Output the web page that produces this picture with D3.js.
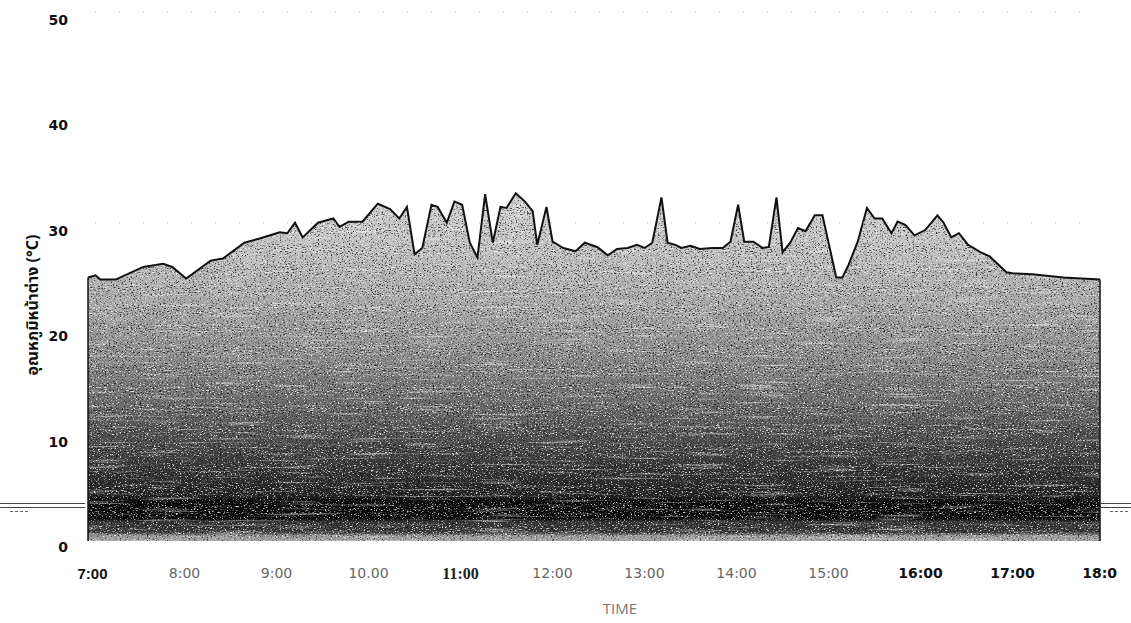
<!DOCTYPE html>
<html>
<head>
<meta charset="utf-8">
<script src="https://cdn.jsdelivr.net/npm/d3@7"></script>
<style>
  body { margin: 0; background: #fff; }
  svg { display: block; }
</style>
</head>
<body>
<svg id="chart" width="1131" height="623"></svg>
<script>
// Surface temperature readings through the day (time of day, °C)
const times = ["7:00","7:05","7:08","7:18","7:36","7:49","7:55","8:04","8:20","8:28","8:42","8:52",
  "9:05","9:10","9:15","9:20","9:30","9:40","9:44","9:50","9:59","10:09","10:17","10:23","10:28",
  "10:33","10:38","10:44","10:48","10:54","10:59","11:04","11:09","11:14","11:19","11:24","11:29",
  "11:33","11:39","11:45","11:50","11:53","11:59","12:03","12:10","12:18","12:24","12:32","12:39",
  "12:45","12:52","12:58","13:03","13:08","13:14","13:18","13:23","13:27","13:33","13:39","13:47",
  "13:54","13:59","14:04","14:08","14:14","14:20","14:24","14:29","14:33","14:38","14:43","14:48",
  "14:54","14:59","15:08","15:12","15:16","15:22","15:28","15:33","15:38","15:44","15:48","15:53",
  "15:59","16:06","16:14","16:18","16:23","16:28","16:34","16:42","16:48","16:59","17:03","17:16",
  "17:36","18:00"];
const temps = [25.0,25.2,24.8,24.8,26.0,26.3,26.0,24.9,26.6,26.8,28.3,28.7,
  29.3,29.2,30.2,28.8,30.2,30.6,29.8,30.3,30.3,32.0,31.5,30.6,31.7,
  27.2,27.8,31.9,31.7,30.2,32.2,31.9,28.3,26.9,32.9,28.3,31.7,
  31.6,33.0,32.2,31.3,28.1,31.7,28.4,27.8,27.5,28.3,27.9,27.1,
  27.7,27.8,28.1,27.8,28.3,32.6,28.3,28.1,27.8,28.0,27.7,27.8,
  27.8,28.4,31.9,28.4,28.4,27.8,27.9,32.6,27.4,28.3,29.7,29.4,
  30.9,30.9,25.0,25.0,26.2,28.4,31.6,30.6,30.6,29.2,30.3,30.0,
  29.0,29.5,30.9,30.2,28.8,29.2,28.1,27.4,27.0,25.5,25.4,25.3,
  25.0,24.8];
const yTicks = [0, 10, 20, 30, 40, 50];
const xTickHours = [7, 8, 9, 10, 11, 12, 13, 14, 15, 16, 17, 18];
const xTickLabels = ["7:00","8:00","9:00","10.00","11:00","12:00","13:00","14:00","15:00","16:00","17:00","18:00"];
const xTitle = "TIME";
const yTitle = "อุณหภูมิหน้าต่าง (°C)";

const toHours = s => { const [h, m] = s.split(":").map(Number); return h + m / 60; };
const data = times.map((t, i) => ({ h: toHours(t), v: temps[i] }));

const svg = d3.select("#chart");
const x = d3.scaleLinear().domain([7, 18]).range([88, 1100]);
const y = d3.scaleLinear().domain([0, 50]).range([541, 14]);

const defs = svg.append("defs");

// Vertical shading of the filled area: pale near the curve, near-black band close to the floor
const grad = defs.append("linearGradient")
  .attr("id", "shade").attr("gradientUnits", "userSpaceOnUse")
  .attr("x1", 0).attr("x2", 0).attr("y1", y(33)).attr("y2", y(0));
[[0.00, "#d2d2d2"], [0.14, "#c2c2c2"], [0.30, "#aaaaaa"], [0.45, "#8e8e8e"],
 [0.59, "#6e6e6e"], [0.71, "#4c4c4c"], [0.80, "#343434"], [0.87, "#222222"],
 [0.885, "#0a0a0a"], [0.935, "#080808"], [0.945, "#363636"], [0.975, "#3a3a3a"],
 [0.985, "#9a9a9a"], [1.00, "#a4a4a4"]]
  .forEach(([o, c]) => grad.append("stop").attr("offset", o).attr("stop-color", c));

// Grain filters: light and dark speckles, plus horizontal streaks
function grainFilter(id, freq, seed, gain, bias, light) {
  const f = defs.append("filter").attr("id", id)
    .attr("x", 0).attr("y", 0).attr("width", 1).attr("height", 1);
  f.append("feTurbulence").attr("type", "fractalNoise")
    .attr("baseFrequency", freq).attr("numOctaves", 2).attr("seed", seed);
  const c = light ? 1 : 0;
  const a = light ? `${gain} 0 0 0 ${-bias}` : `${-gain} 0 0 0 ${bias}`;
  f.append("feColorMatrix").attr("type", "matrix")
    .attr("values", `0 0 0 0 ${c} 0 0 0 0 ${c} 0 0 0 0 ${c} ${a}`);
  f.append("feComposite").attr("in2", "SourceGraphic").attr("operator", "in");
}
grainFilter("grainLight", "0.55 0.95", 7, 5, 2.8, true);
grainFilter("grainDark", "0.55 0.95", 19, 5, 2.2, false);
grainFilter("streaks", "0.015 0.45", 3, 4, 2.3, true);

const area = d3.area().x(d => x(d.h)).y0(y(0)).y1(d => y(d.v)).curve(d3.curveLinear);
const line = d3.line().x(d => x(d.h)).y(d => y(d.v)).curve(d3.curveLinear);

const plot = svg.append("g");
plot.append("path").datum(data).attr("d", area).attr("fill", "url(#shade)");
plot.append("path").datum(data).attr("d", area).attr("fill", "#fff").attr("filter", "url(#streaks)").attr("opacity", 0.45);
plot.append("path").datum(data).attr("d", area).attr("fill", "#fff").attr("filter", "url(#grainLight)").attr("opacity", 0.8);
plot.append("path").datum(data).attr("d", area).attr("fill", "#000").attr("filter", "url(#grainDark)").attr("opacity", 0.7);

// Edges of the filled area
const first = data[0], last = data[data.length - 1];
plot.append("line").attr("x1", x(first.h)).attr("x2", x(first.h))
  .attr("y1", y(first.v)).attr("y2", y(0)).attr("stroke", "#111").attr("stroke-width", 1.5);
plot.append("line").attr("x1", x(last.h)).attr("x2", x(last.h))
  .attr("y1", y(last.v)).attr("y2", y(0)).attr("stroke", "#111").attr("stroke-width", 1.5);
plot.append("path").datum(data).attr("d", line)
  .attr("fill", "none").attr("stroke", "#111").attr("stroke-width", 2).attr("stroke-linejoin", "miter");

// Faint dotted guides at 30 and 50
[30, 50].forEach(v => {
  svg.append("line").attr("x1", 95).attr("x2", 1095).attr("y1", y(v) - 2).attr("y2", y(v) - 2)
    .attr("stroke", "#bbb").attr("stroke-width", 1).attr("stroke-dasharray", "1 23");
});

// Short double rules at both sides of the floor band
[[0, 85], [1100, 1131]].forEach(([a, b]) => {
  svg.append("line").attr("x1", a).attr("x2", b).attr("y1", 503.5).attr("y2", 503.5).attr("stroke", "#444");
  svg.append("line").attr("x1", a).attr("x2", b).attr("y1", 507.5).attr("y2", 507.5).attr("stroke", "#444");
  svg.append("line").attr("x1", a + 10).attr("x2", a + 28).attr("y1", 511.5).attr("y2", 511.5)
    .attr("stroke", "#666").attr("stroke-dasharray", "3 2");
});

// Y axis
const yAxis = svg.append("g").attr("transform", "translate(68,6)")
  .call(d3.axisLeft(y).tickValues(yTicks).tickSize(0).tickPadding(0).tickFormat(d3.format("d")));
yAxis.select(".domain").remove();
yAxis.selectAll("text")
  .attr("font-family", "'DejaVu Sans', sans-serif").attr("font-weight", "bold")
  .attr("font-size", 14).attr("fill", "#111");

// X axis, clipped at the right edge of the sheet
defs.append("clipPath").attr("id", "xclip").append("rect")
  .attr("x", 0).attr("y", 550).attr("width", 1117).attr("height", 60);
const xAxis = svg.append("g").attr("clip-path", "url(#xclip)")
  .append("g").attr("transform", "translate(4,568)")
  .call(d3.axisBottom(x).tickValues(xTickHours).tickSize(0).tickPadding(0)
    .tickFormat((d, i) => xTickLabels[i]));
xAxis.select(".domain").remove();
const labelStyle = i => {
  if (i === 0) return ["'Liberation Sans', sans-serif", "bold", "#111", 15];
  if (i === 4) return ["'Liberation Serif', serif", "bold", "#222", 16];
  if (i >= 9) return ["'DejaVu Sans', sans-serif", "bold", "#111", 14];
  return ["'DejaVu Sans', sans-serif", "normal", "#666", 14];
};
xAxis.selectAll("text").each(function (d, i) {
  const [ff, fw, fc, fs] = labelStyle(i);
  d3.select(this).attr("font-family", ff).attr("font-weight", fw)
    .attr("fill", fc).attr("font-size", fs);
});

// Axis titles
svg.append("text").attr("x", 620).attr("y", 614).attr("text-anchor", "middle")
  .attr("font-family", "'Open Sans', sans-serif").attr("font-size", 15).attr("fill", "#777")
  .text(xTitle);
svg.append("text").attr("transform", "translate(34,305) rotate(-90)")
  .attr("text-anchor", "middle").attr("dominant-baseline", "middle")
  .attr("font-family", "'Noto Sans', 'Noto Sans Thai', sans-serif").attr("font-weight", "bold")
  .attr("font-size", 16).attr("fill", "#111")
  .text(yTitle);
</script>
</body>
</html>
